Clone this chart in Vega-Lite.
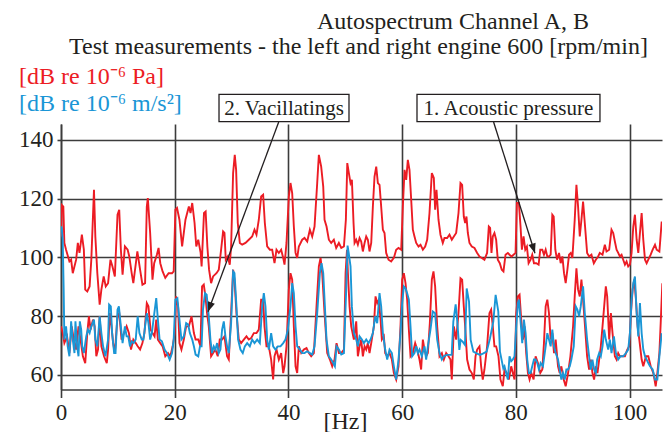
{
"$schema": "https://vega.github.io/schema/vega-lite/v6.json",
"width": 601, "height": 265.5,
"autosize": {"type": "none"},
"padding": {"left": 61, "top": 124, "right": 6, "bottom": 42.5},
"background": "white",
"config": {"font": "Liberation Serif", "view": {"stroke": null}, "text": {"fontWeight": "normal"},
  "axis": {"grid": true, "gridColor": "#3c3c3c", "gridWidth": 1.6, "gridOpacity": 1, "domainColor": "#3c3c3c", "domainWidth": 1.6,
           "tickColor": "#3c3c3c", "tickWidth": 1.6, "labelFont": "Liberation Serif", "labelFontSize": 23, "labelColor": "#231f20", "labelFlush": false,
           "titleFont": "Liberation Serif", "titleFontWeight": "normal", "titleColor": "#231f20"}},
"datasets": {"spectrum": [
{"f":0,"dB":107.1,"s":"A_high"},{"f":0.12,"dB":117.9,"s":"A_high"},{"f":0.41,"dB":117.3,"s":"A_high"},{"f":0.59,"dB":104.9,"s":"A_high"},{"f":0.89,"dB":102.6,"s":"A_high"},{"f":1.48,"dB":98.6,"s":"A_high"},{"f":1.78,"dB":99.2,"s":"A_high"},{"f":2.07,"dB":94.6,"s":"A_high"},{"f":2.66,"dB":99.2,"s":"A_high"},{"f":2.96,"dB":104.9,"s":"A_high"},{"f":3.25,"dB":101.5,"s":"A_high"},{"f":3.67,"dB":107.7,"s":"A_high"},{"f":4.02,"dB":102.6,"s":"A_high"},{"f":4.26,"dB":89.0,"s":"A_high"},{"f":4.62,"dB":88.4,"s":"A_high"},{"f":5.03,"dB":90.1,"s":"A_high"},{"f":5.33,"dB":99.2,"s":"A_high"},{"f":5.80,"dB":123.0,"s":"A_high"},{"f":6.04,"dB":107.1,"s":"A_high"},{"f":6.39,"dB":94.6,"s":"A_high"},{"f":6.80,"dB":83.9,"s":"A_high"},{"f":7.10,"dB":89.0,"s":"A_high"},{"f":7.51,"dB":93.5,"s":"A_high"},{"f":7.87,"dB":90.1,"s":"A_high"},{"f":8.28,"dB":91.2,"s":"A_high"},{"f":8.70,"dB":99.2,"s":"A_high"},{"f":9.05,"dB":96.9,"s":"A_high"},{"f":9.47,"dB":93.5,"s":"A_high"},{"f":9.94,"dB":114.5,"s":"A_high"},{"f":10.24,"dB":116.2,"s":"A_high"},{"f":10.53,"dB":102.6,"s":"A_high"},{"f":10.83,"dB":94.1,"s":"A_high"},{"f":11.24,"dB":103.7,"s":"A_high"},{"f":11.72,"dB":102.6,"s":"A_high"},{"f":12.01,"dB":100.3,"s":"A_high"},{"f":12.43,"dB":94.6,"s":"A_high"},{"f":12.72,"dB":91.2,"s":"A_high"},{"f":13.43,"dB":102.0,"s":"A_high"},{"f":13.91,"dB":95.8,"s":"A_high"},{"f":14.32,"dB":90.7,"s":"A_high"},{"f":14.79,"dB":91.2,"s":"A_high"},{"f":15.09,"dB":117.3,"s":"A_high"},{"f":15.27,"dB":120.2,"s":"A_high"},{"f":15.68,"dB":108.3,"s":"A_high"},{"f":16.09,"dB":92.4,"s":"A_high"},{"f":16.39,"dB":98.0,"s":"A_high"},{"f":16.86,"dB":100.9,"s":"A_high"},{"f":17.16,"dB":103.2,"s":"A_high"},{"f":17.46,"dB":98.0,"s":"A_high"},{"f":17.87,"dB":95.2,"s":"A_high"},{"f":18.34,"dB":93.0,"s":"A_high"},{"f":18.93,"dB":94.6,"s":"A_high"},{"f":19.53,"dB":94.6,"s":"A_high"},{"f":19.82,"dB":95.2,"s":"A_high"},{"f":20.12,"dB":116.2,"s":"A_high"},{"f":20.41,"dB":116.8,"s":"A_high"},{"f":20.83,"dB":112.8,"s":"A_high"},{"f":21.30,"dB":103.7,"s":"A_high"},{"f":21.89,"dB":112.8,"s":"A_high"},{"f":22.49,"dB":117.3,"s":"A_high"},{"f":22.78,"dB":115.1,"s":"A_high"},{"f":23.08,"dB":118.5,"s":"A_high"},{"f":23.49,"dB":111.7,"s":"A_high"},{"f":23.79,"dB":103.7,"s":"A_high"},{"f":24.14,"dB":106.0,"s":"A_high"},{"f":24.56,"dB":101.5,"s":"A_high"},{"f":24.73,"dB":96.9,"s":"A_high"},{"f":25.15,"dB":115.1,"s":"A_high"},{"f":25.44,"dB":115.6,"s":"A_high"},{"f":25.74,"dB":103.7,"s":"A_high"},{"f":26.04,"dB":95.8,"s":"A_high"},{"f":26.40,"dB":91.2,"s":"A_high"},{"f":26.75,"dB":93.5,"s":"A_high"},{"f":27.34,"dB":94.6,"s":"A_high"},{"f":27.75,"dB":95.8,"s":"A_high"},{"f":28.16,"dB":102.6,"s":"A_high"},{"f":28.51,"dB":108.8,"s":"A_high"},{"f":28.75,"dB":108.3,"s":"A_high"},{"f":28.98,"dB":99.2,"s":"A_high"},{"f":29.33,"dB":100.3,"s":"A_high"},{"f":29.68,"dB":97.5,"s":"A_high"},{"f":29.92,"dB":103.7,"s":"A_high"},{"f":30.27,"dB":128.7,"s":"A_high"},{"f":30.56,"dB":134.9,"s":"A_high"},{"f":30.80,"dB":129.8,"s":"A_high"},{"f":31.09,"dB":111.7,"s":"A_high"},{"f":31.45,"dB":104.9,"s":"A_high"},{"f":31.86,"dB":104.3,"s":"A_high"},{"f":32.44,"dB":104.9,"s":"A_high"},{"f":33.03,"dB":106.0,"s":"A_high"},{"f":33.62,"dB":107.1,"s":"A_high"},{"f":34.03,"dB":109.4,"s":"A_high"},{"f":34.38,"dB":107.7,"s":"A_high"},{"f":34.79,"dB":112.8,"s":"A_high"},{"f":35.20,"dB":120.7,"s":"A_high"},{"f":35.55,"dB":121.3,"s":"A_high"},{"f":35.85,"dB":111.7,"s":"A_high"},{"f":36.26,"dB":103.7,"s":"A_high"},{"f":36.73,"dB":102.6,"s":"A_high"},{"f":37.14,"dB":102.6,"s":"A_high"},{"f":37.55,"dB":98.0,"s":"A_high"},{"f":37.90,"dB":102.6,"s":"A_high"},{"f":38.31,"dB":101.5,"s":"A_high"},{"f":38.72,"dB":102.6,"s":"A_high"},{"f":39.08,"dB":99.8,"s":"A_high"},{"f":39.31,"dB":97.5,"s":"A_high"},{"f":39.66,"dB":104.9,"s":"A_high"},{"f":40.07,"dB":120.7,"s":"A_high"},{"f":40.36,"dB":125.3,"s":"A_high"},{"f":40.66,"dB":121.9,"s":"A_high"},{"f":40.95,"dB":110.5,"s":"A_high"},{"f":41.25,"dB":101.5,"s":"A_high"},{"f":41.54,"dB":99.8,"s":"A_high"},{"f":41.83,"dB":103.7,"s":"A_high"},{"f":42.42,"dB":106.0,"s":"A_high"},{"f":42.83,"dB":106.6,"s":"A_high"},{"f":43.30,"dB":105.4,"s":"A_high"},{"f":43.77,"dB":109.4,"s":"A_high"},{"f":44.18,"dB":107.1,"s":"A_high"},{"f":44.59,"dB":110.5,"s":"A_high"},{"f":45.06,"dB":125.3,"s":"A_high"},{"f":45.35,"dB":134.9,"s":"A_high"},{"f":45.76,"dB":130.9,"s":"A_high"},{"f":46.12,"dB":124.1,"s":"A_high"},{"f":46.35,"dB":112.8,"s":"A_high"},{"f":46.70,"dB":110.5,"s":"A_high"},{"f":47.11,"dB":106.0,"s":"A_high"},{"f":47.52,"dB":104.9,"s":"A_high"},{"f":47.99,"dB":106.0,"s":"A_high"},{"f":48.40,"dB":103.2,"s":"A_high"},{"f":48.87,"dB":104.9,"s":"A_high"},{"f":49.29,"dB":103.2,"s":"A_high"},{"f":49.76,"dB":103.7,"s":"A_high"},{"f":50.10,"dB":112.8,"s":"A_high"},{"f":50.35,"dB":132.1,"s":"A_high"},{"f":50.63,"dB":128.7,"s":"A_high"},{"f":50.92,"dB":125.3,"s":"A_high"},{"f":51.16,"dB":126.4,"s":"A_high"},{"f":51.45,"dB":111.7,"s":"A_high"},{"f":51.63,"dB":104.9,"s":"A_high"},{"f":51.92,"dB":106.0,"s":"A_high"},{"f":52.21,"dB":104.3,"s":"A_high"},{"f":52.51,"dB":106.6,"s":"A_high"},{"f":52.80,"dB":105.4,"s":"A_high"},{"f":53.09,"dB":102.0,"s":"A_high"},{"f":53.39,"dB":104.9,"s":"A_high"},{"f":53.68,"dB":107.1,"s":"A_high"},{"f":53.97,"dB":106.0,"s":"A_high"},{"f":54.26,"dB":102.0,"s":"A_high"},{"f":54.56,"dB":104.9,"s":"A_high"},{"f":54.85,"dB":117.3,"s":"A_high"},{"f":55.14,"dB":127.5,"s":"A_high"},{"f":55.44,"dB":130.9,"s":"A_high"},{"f":55.73,"dB":125.3,"s":"A_high"},{"f":56.02,"dB":124.7,"s":"A_high"},{"f":56.31,"dB":117.3,"s":"A_high"},{"f":56.61,"dB":109.4,"s":"A_high"},{"f":56.90,"dB":108.3,"s":"A_high"},{"f":57.19,"dB":101.5,"s":"A_high"},{"f":57.60,"dB":99.2,"s":"A_high"},{"f":58.07,"dB":98.6,"s":"A_high"},{"f":58.54,"dB":99.8,"s":"A_high"},{"f":58.95,"dB":102.6,"s":"A_high"},{"f":59.36,"dB":103.2,"s":"A_high"},{"f":59.83,"dB":102.6,"s":"A_high"},{"f":60.12,"dB":117.3,"s":"A_high"},{"f":60.42,"dB":129.8,"s":"A_high"},{"f":60.71,"dB":126.4,"s":"A_high"},{"f":61.00,"dB":133.2,"s":"A_high"},{"f":61.29,"dB":129.8,"s":"A_high"},{"f":61.59,"dB":119.6,"s":"A_high"},{"f":61.88,"dB":109.4,"s":"A_high"},{"f":62.17,"dB":107.1,"s":"A_high"},{"f":62.47,"dB":104.9,"s":"A_high"},{"f":62.88,"dB":103.7,"s":"A_high"},{"f":63.23,"dB":104.3,"s":"A_high"},{"f":63.64,"dB":102.6,"s":"A_high"},{"f":64.05,"dB":103.7,"s":"A_high"},{"f":64.40,"dB":106.0,"s":"A_high"},{"f":64.81,"dB":115.1,"s":"A_high"},{"f":65.22,"dB":128.7,"s":"A_high"},{"f":65.57,"dB":127.0,"s":"A_high"},{"f":65.80,"dB":116.2,"s":"A_high"},{"f":66.04,"dB":123.0,"s":"A_high"},{"f":66.39,"dB":112.8,"s":"A_high"},{"f":66.74,"dB":107.7,"s":"A_high"},{"f":67.15,"dB":104.9,"s":"A_high"},{"f":67.44,"dB":106.6,"s":"A_high"},{"f":67.91,"dB":106.6,"s":"A_high"},{"f":68.32,"dB":107.7,"s":"A_high"},{"f":68.73,"dB":106.0,"s":"A_high"},{"f":69.09,"dB":107.1,"s":"A_high"},{"f":69.50,"dB":108.3,"s":"A_high"},{"f":69.91,"dB":115.1,"s":"A_high"},{"f":70.26,"dB":125.3,"s":"A_high"},{"f":70.55,"dB":124.7,"s":"A_high"},{"f":70.84,"dB":113.9,"s":"A_high"},{"f":71.08,"dB":111.7,"s":"A_high"},{"f":71.31,"dB":113.9,"s":"A_high"},{"f":71.55,"dB":108.3,"s":"A_high"},{"f":71.84,"dB":104.9,"s":"A_high"},{"f":72.25,"dB":103.7,"s":"A_high"},{"f":72.72,"dB":103.2,"s":"A_high"},{"f":73.19,"dB":101.5,"s":"A_high"},{"f":73.60,"dB":100.3,"s":"A_high"},{"f":74.01,"dB":99.8,"s":"A_high"},{"f":74.47,"dB":99.2,"s":"A_high"},{"f":74.94,"dB":101.5,"s":"A_high"},{"f":75.24,"dB":110.5,"s":"A_high"},{"f":75.47,"dB":110.0,"s":"A_high"},{"f":75.71,"dB":101.5,"s":"A_high"},{"f":75.94,"dB":107.1,"s":"A_high"},{"f":76.23,"dB":108.3,"s":"A_high"},{"f":76.53,"dB":106.0,"s":"A_high"},{"f":76.82,"dB":99.2,"s":"A_high"},{"f":77.17,"dB":98.0,"s":"A_high"},{"f":77.52,"dB":95.8,"s":"A_high"},{"f":77.82,"dB":95.2,"s":"A_high"},{"f":78.18,"dB":100.9,"s":"A_high"},{"f":78.59,"dB":101.5,"s":"A_high"},{"f":78.88,"dB":100.9,"s":"A_high"},{"f":79.24,"dB":100.3,"s":"A_high"},{"f":79.59,"dB":100.9,"s":"A_high"},{"f":79.94,"dB":101.5,"s":"A_high"},{"f":80.18,"dB":118.5,"s":"A_high"},{"f":80.53,"dB":118.5,"s":"A_high"},{"f":80.82,"dB":110.5,"s":"A_high"},{"f":81.06,"dB":102.6,"s":"A_high"},{"f":81.35,"dB":107.1,"s":"A_high"},{"f":81.65,"dB":102.6,"s":"A_high"},{"f":81.94,"dB":103.7,"s":"A_high"},{"f":82.24,"dB":98.0,"s":"A_high"},{"f":82.59,"dB":99.2,"s":"A_high"},{"f":82.88,"dB":100.9,"s":"A_high"},{"f":83.18,"dB":98.0,"s":"A_high"},{"f":83.59,"dB":98.0,"s":"A_high"},{"f":84.00,"dB":97.5,"s":"A_high"},{"f":84.29,"dB":102.6,"s":"A_high"},{"f":84.65,"dB":102.6,"s":"A_high"},{"f":84.94,"dB":100.9,"s":"A_high"},{"f":85.24,"dB":102.6,"s":"A_high"},{"f":85.53,"dB":100.3,"s":"A_high"},{"f":85.82,"dB":100.3,"s":"A_high"},{"f":86.12,"dB":100.9,"s":"A_high"},{"f":86.41,"dB":114.5,"s":"A_high"},{"f":86.65,"dB":113.9,"s":"A_high"},{"f":86.94,"dB":102.6,"s":"A_high"},{"f":87.24,"dB":99.2,"s":"A_high"},{"f":87.59,"dB":101.5,"s":"A_high"},{"f":87.88,"dB":98.0,"s":"A_high"},{"f":88.18,"dB":100.3,"s":"A_high"},{"f":88.47,"dB":94.6,"s":"A_high"},{"f":88.76,"dB":91.2,"s":"A_high"},{"f":89.06,"dB":95.8,"s":"A_high"},{"f":89.35,"dB":100.9,"s":"A_high"},{"f":89.65,"dB":101.5,"s":"A_high"},{"f":89.94,"dB":99.8,"s":"A_high"},{"f":90.35,"dB":112.8,"s":"A_high"},{"f":90.65,"dB":124.7,"s":"A_high"},{"f":90.94,"dB":117.3,"s":"A_high"},{"f":91.24,"dB":107.1,"s":"A_high"},{"f":91.53,"dB":112.8,"s":"A_high"},{"f":91.82,"dB":119.0,"s":"A_high"},{"f":92.12,"dB":111.7,"s":"A_high"},{"f":92.53,"dB":101.5,"s":"A_high"},{"f":92.88,"dB":100.3,"s":"A_high"},{"f":93.29,"dB":100.9,"s":"A_high"},{"f":93.71,"dB":98.0,"s":"A_high"},{"f":94.06,"dB":99.2,"s":"A_high"},{"f":94.47,"dB":100.3,"s":"A_high"},{"f":94.76,"dB":101.5,"s":"A_high"},{"f":95.24,"dB":100.9,"s":"A_high"},{"f":95.65,"dB":104.3,"s":"A_high"},{"f":95.94,"dB":102.0,"s":"A_high"},{"f":96.41,"dB":102.6,"s":"A_high"},{"f":96.82,"dB":109.4,"s":"A_high"},{"f":97.12,"dB":108.3,"s":"A_high"},{"f":97.41,"dB":105.4,"s":"A_high"},{"f":97.71,"dB":102.6,"s":"A_high"},{"f":98.00,"dB":101.5,"s":"A_high"},{"f":98.29,"dB":100.3,"s":"A_high"},{"f":98.59,"dB":100.9,"s":"A_high"},{"f":98.88,"dB":99.2,"s":"A_high"},{"f":99.18,"dB":97.5,"s":"A_high"},{"f":99.47,"dB":98.6,"s":"A_high"},{"f":99.76,"dB":96.9,"s":"A_high"},{"f":100.06,"dB":97.5,"s":"A_high"},{"f":100.35,"dB":101.5,"s":"A_high"},{"f":100.65,"dB":110.5,"s":"A_high"},{"f":100.94,"dB":114.5,"s":"A_high"},{"f":101.24,"dB":106.0,"s":"A_high"},{"f":101.53,"dB":101.5,"s":"A_high"},{"f":101.82,"dB":108.3,"s":"A_high"},{"f":102.12,"dB":115.1,"s":"A_high"},{"f":102.41,"dB":106.0,"s":"A_high"},{"f":102.71,"dB":99.2,"s":"A_high"},{"f":103.00,"dB":98.0,"s":"A_high"},{"f":103.29,"dB":99.2,"s":"A_high"},{"f":103.71,"dB":100.9,"s":"A_high"},{"f":104.06,"dB":102.6,"s":"A_high"},{"f":104.47,"dB":104.3,"s":"A_high"},{"f":104.76,"dB":102.6,"s":"A_high"},{"f":105.24,"dB":102.0,"s":"A_high"},{"f":105.65,"dB":112.2,"s":"A_high"},
{"f":0,"dB":76.5,"s":"A_low"},{"f":0.30,"dB":74.2,"s":"A_low"},{"f":0.59,"dB":70.8,"s":"A_low"},{"f":1.07,"dB":73.1,"s":"A_low"},{"f":1.48,"dB":67.4,"s":"A_low"},{"f":1.89,"dB":76.5,"s":"A_low"},{"f":2.25,"dB":72.0,"s":"A_low"},{"f":2.66,"dB":68.6,"s":"A_low"},{"f":3.08,"dB":76.5,"s":"A_low"},{"f":3.43,"dB":72.0,"s":"A_low"},{"f":3.85,"dB":66.3,"s":"A_low"},{"f":4.26,"dB":64.0,"s":"A_low"},{"f":4.62,"dB":74.2,"s":"A_low"},{"f":4.91,"dB":79.9,"s":"A_low"},{"f":5.21,"dB":75.4,"s":"A_low"},{"f":5.62,"dB":78.8,"s":"A_low"},{"f":5.92,"dB":76.5,"s":"A_low"},{"f":6.21,"dB":66.3,"s":"A_low"},{"f":6.51,"dB":68.6,"s":"A_low"},{"f":6.80,"dB":79.9,"s":"A_low"},{"f":7.10,"dB":69.7,"s":"A_low"},{"f":7.57,"dB":66.3,"s":"A_low"},{"f":8.05,"dB":64.0,"s":"A_low"},{"f":8.28,"dB":68.6,"s":"A_low"},{"f":8.58,"dB":81.0,"s":"A_low"},{"f":8.88,"dB":76.5,"s":"A_low"},{"f":9.17,"dB":70.8,"s":"A_low"},{"f":9.47,"dB":67.4,"s":"A_low"},{"f":9.94,"dB":79.9,"s":"A_low"},{"f":10.24,"dB":81.0,"s":"A_low"},{"f":10.65,"dB":72.0,"s":"A_low"},{"f":11.07,"dB":74.2,"s":"A_low"},{"f":11.54,"dB":76.5,"s":"A_low"},{"f":11.95,"dB":74.2,"s":"A_low"},{"f":12.31,"dB":68.6,"s":"A_low"},{"f":12.72,"dB":72.0,"s":"A_low"},{"f":13.14,"dB":70.8,"s":"A_low"},{"f":13.49,"dB":69.7,"s":"A_low"},{"f":13.91,"dB":68.6,"s":"A_low"},{"f":14.32,"dB":70.8,"s":"A_low"},{"f":14.67,"dB":74.2,"s":"A_low"},{"f":15.09,"dB":84.4,"s":"A_low"},{"f":15.38,"dB":83.3,"s":"A_low"},{"f":15.74,"dB":75.4,"s":"A_low"},{"f":16.09,"dB":74.2,"s":"A_low"},{"f":16.45,"dB":73.1,"s":"A_low"},{"f":16.75,"dB":78.8,"s":"A_low"},{"f":17.04,"dB":72.0,"s":"A_low"},{"f":17.46,"dB":70.8,"s":"A_low"},{"f":17.87,"dB":69.7,"s":"A_low"},{"f":18.34,"dB":66.3,"s":"A_low"},{"f":18.82,"dB":67.4,"s":"A_low"},{"f":19.23,"dB":66.3,"s":"A_low"},{"f":19.64,"dB":69.7,"s":"A_low"},{"f":20.00,"dB":74.2,"s":"A_low"},{"f":20.24,"dB":86.7,"s":"A_low"},{"f":20.59,"dB":83.3,"s":"A_low"},{"f":20.83,"dB":70.8,"s":"A_low"},{"f":21.18,"dB":68.6,"s":"A_low"},{"f":21.60,"dB":72.0,"s":"A_low"},{"f":22.01,"dB":76.5,"s":"A_low"},{"f":22.49,"dB":76.5,"s":"A_low"},{"f":22.96,"dB":79.9,"s":"A_low"},{"f":23.37,"dB":74.2,"s":"A_low"},{"f":23.67,"dB":72.0,"s":"A_low"},{"f":24.14,"dB":72.0,"s":"A_low"},{"f":24.52,"dB":69.7,"s":"A_low"},{"f":24.81,"dB":90.1,"s":"A_low"},{"f":25.11,"dB":90.7,"s":"A_low"},{"f":25.40,"dB":86.7,"s":"A_low"},{"f":25.69,"dB":81.0,"s":"A_low"},{"f":25.99,"dB":76.5,"s":"A_low"},{"f":26.40,"dB":66.3,"s":"A_low"},{"f":26.75,"dB":67.4,"s":"A_low"},{"f":27.16,"dB":68.6,"s":"A_low"},{"f":27.57,"dB":66.3,"s":"A_low"},{"f":27.92,"dB":72.0,"s":"A_low"},{"f":28.33,"dB":72.0,"s":"A_low"},{"f":28.75,"dB":73.1,"s":"A_low"},{"f":29.21,"dB":66.3,"s":"A_low"},{"f":29.51,"dB":65.2,"s":"A_low"},{"f":29.92,"dB":81.0,"s":"A_low"},{"f":30.27,"dB":95.8,"s":"A_low"},{"f":30.51,"dB":92.4,"s":"A_low"},{"f":30.86,"dB":81.0,"s":"A_low"},{"f":31.27,"dB":72.0,"s":"A_low"},{"f":31.68,"dB":70.8,"s":"A_low"},{"f":32.15,"dB":72.0,"s":"A_low"},{"f":32.62,"dB":73.1,"s":"A_low"},{"f":33.03,"dB":72.0,"s":"A_low"},{"f":33.44,"dB":72.5,"s":"A_low"},{"f":33.91,"dB":74.2,"s":"A_low"},{"f":34.38,"dB":74.2,"s":"A_low"},{"f":34.79,"dB":75.4,"s":"A_low"},{"f":35.20,"dB":85.6,"s":"A_low"},{"f":35.55,"dB":85.6,"s":"A_low"},{"f":35.79,"dB":76.5,"s":"A_low"},{"f":36.14,"dB":69.7,"s":"A_low"},{"f":36.55,"dB":69.7,"s":"A_low"},{"f":36.96,"dB":65.2,"s":"A_low"},{"f":37.31,"dB":58.4,"s":"A_low"},{"f":37.55,"dB":66.3,"s":"A_low"},{"f":37.90,"dB":68.6,"s":"A_low"},{"f":38.31,"dB":65.2,"s":"A_low"},{"f":38.72,"dB":67.4,"s":"A_low"},{"f":39.08,"dB":60.6,"s":"A_low"},{"f":39.31,"dB":62.9,"s":"A_low"},{"f":39.66,"dB":69.7,"s":"A_low"},{"f":40.07,"dB":89.0,"s":"A_low"},{"f":40.36,"dB":94.6,"s":"A_low"},{"f":40.66,"dB":92.4,"s":"A_low"},{"f":40.95,"dB":76.5,"s":"A_low"},{"f":41.25,"dB":62.9,"s":"A_low"},{"f":41.54,"dB":60.6,"s":"A_low"},{"f":41.83,"dB":69.7,"s":"A_low"},{"f":42.25,"dB":67.4,"s":"A_low"},{"f":42.71,"dB":68.6,"s":"A_low"},{"f":43.18,"dB":69.1,"s":"A_low"},{"f":43.59,"dB":67.4,"s":"A_low"},{"f":44.00,"dB":66.3,"s":"A_low"},{"f":44.47,"dB":67.4,"s":"A_low"},{"f":44.94,"dB":83.3,"s":"A_low"},{"f":45.35,"dB":96.9,"s":"A_low"},{"f":45.65,"dB":99.8,"s":"A_low"},{"f":45.94,"dB":94.6,"s":"A_low"},{"f":46.35,"dB":81.0,"s":"A_low"},{"f":46.82,"dB":67.4,"s":"A_low"},{"f":47.29,"dB":65.2,"s":"A_low"},{"f":47.70,"dB":62.9,"s":"A_low"},{"f":48.11,"dB":65.2,"s":"A_low"},{"f":48.46,"dB":70.8,"s":"A_low"},{"f":48.88,"dB":67.4,"s":"A_low"},{"f":49.29,"dB":67.4,"s":"A_low"},{"f":49.76,"dB":68.6,"s":"A_low"},{"f":50.05,"dB":94.6,"s":"A_low"},{"f":50.30,"dB":102.6,"s":"A_low"},{"f":50.46,"dB":94.6,"s":"A_low"},{"f":50.75,"dB":83.3,"s":"A_low"},{"f":51.04,"dB":76.5,"s":"A_low"},{"f":51.51,"dB":72.0,"s":"A_low"},{"f":51.92,"dB":78.2,"s":"A_low"},{"f":52.21,"dB":66.3,"s":"A_low"},{"f":52.51,"dB":69.7,"s":"A_low"},{"f":52.80,"dB":72.0,"s":"A_low"},{"f":53.09,"dB":66.3,"s":"A_low"},{"f":53.39,"dB":69.7,"s":"A_low"},{"f":53.68,"dB":68.6,"s":"A_low"},{"f":53.97,"dB":70.8,"s":"A_low"},{"f":54.26,"dB":67.4,"s":"A_low"},{"f":54.56,"dB":70.8,"s":"A_low"},{"f":55.03,"dB":76.5,"s":"A_low"},{"f":55.32,"dB":86.7,"s":"A_low"},{"f":55.61,"dB":84.4,"s":"A_low"},{"f":55.90,"dB":85.6,"s":"A_low"},{"f":56.20,"dB":78.8,"s":"A_low"},{"f":56.43,"dB":72.0,"s":"A_low"},{"f":56.78,"dB":73.1,"s":"A_low"},{"f":57.02,"dB":67.4,"s":"A_low"},{"f":57.37,"dB":66.3,"s":"A_low"},{"f":57.78,"dB":67.4,"s":"A_low"},{"f":58.19,"dB":65.2,"s":"A_low"},{"f":58.54,"dB":60.6,"s":"A_low"},{"f":58.95,"dB":58.4,"s":"A_low"},{"f":59.36,"dB":62.9,"s":"A_low"},{"f":59.71,"dB":76.5,"s":"A_low"},{"f":60.00,"dB":92.4,"s":"A_low"},{"f":60.30,"dB":94.6,"s":"A_low"},{"f":60.59,"dB":91.2,"s":"A_low"},{"f":60.88,"dB":85.6,"s":"A_low"},{"f":61.18,"dB":75.4,"s":"A_low"},{"f":61.47,"dB":66.3,"s":"A_low"},{"f":61.88,"dB":67.4,"s":"A_low"},{"f":62.29,"dB":70.8,"s":"A_low"},{"f":62.64,"dB":68.6,"s":"A_low"},{"f":63.05,"dB":65.2,"s":"A_low"},{"f":63.34,"dB":61.8,"s":"A_low"},{"f":63.64,"dB":72.0,"s":"A_low"},{"f":63.93,"dB":68.6,"s":"A_low"},{"f":64.22,"dB":66.3,"s":"A_low"},{"f":64.52,"dB":67.4,"s":"A_low"},{"f":64.87,"dB":77.6,"s":"A_low"},{"f":65.22,"dB":92.4,"s":"A_low"},{"f":65.51,"dB":95.2,"s":"A_low"},{"f":65.80,"dB":90.1,"s":"A_low"},{"f":66.16,"dB":76.5,"s":"A_low"},{"f":66.57,"dB":66.3,"s":"A_low"},{"f":66.98,"dB":67.4,"s":"A_low"},{"f":67.33,"dB":65.2,"s":"A_low"},{"f":67.74,"dB":67.4,"s":"A_low"},{"f":68.15,"dB":66.3,"s":"A_low"},{"f":68.50,"dB":65.2,"s":"A_low"},{"f":68.73,"dB":58.4,"s":"A_low"},{"f":69.09,"dB":76.5,"s":"A_low"},{"f":69.50,"dB":72.0,"s":"A_low"},{"f":69.91,"dB":81.0,"s":"A_low"},{"f":70.26,"dB":92.9,"s":"A_low"},{"f":70.55,"dB":92.4,"s":"A_low"},{"f":70.84,"dB":83.3,"s":"A_low"},{"f":71.08,"dB":76.5,"s":"A_low"},{"f":71.43,"dB":65.2,"s":"A_low"},{"f":71.84,"dB":61.8,"s":"A_low"},{"f":72.25,"dB":60.6,"s":"A_low"},{"f":72.60,"dB":58.4,"s":"A_low"},{"f":72.90,"dB":66.3,"s":"A_low"},{"f":73.19,"dB":68.6,"s":"A_low"},{"f":73.60,"dB":69.7,"s":"A_low"},{"f":73.89,"dB":62.9,"s":"A_low"},{"f":74.18,"dB":58.4,"s":"A_low"},{"f":74.47,"dB":61.8,"s":"A_low"},{"f":74.94,"dB":69.7,"s":"A_low"},{"f":75.35,"dB":81.0,"s":"A_low"},{"f":75.65,"dB":82.2,"s":"A_low"},{"f":75.94,"dB":76.5,"s":"A_low"},{"f":76.23,"dB":69.7,"s":"A_low"},{"f":76.53,"dB":69.7,"s":"A_low"},{"f":76.94,"dB":66.3,"s":"A_low"},{"f":77.29,"dB":58.4,"s":"A_low"},{"f":77.70,"dB":56.1,"s":"A_low"},{"f":78.00,"dB":61.8,"s":"A_low"},{"f":78.41,"dB":60.6,"s":"A_low"},{"f":78.76,"dB":58.4,"s":"A_low"},{"f":79.18,"dB":62.9,"s":"A_low"},{"f":79.47,"dB":60.6,"s":"A_low"},{"f":79.76,"dB":58.4,"s":"A_low"},{"f":80.06,"dB":81.0,"s":"A_low"},{"f":80.35,"dB":86.7,"s":"A_low"},{"f":80.65,"dB":87.3,"s":"A_low"},{"f":80.94,"dB":78.8,"s":"A_low"},{"f":81.24,"dB":72.0,"s":"A_low"},{"f":81.53,"dB":76.5,"s":"A_low"},{"f":81.82,"dB":67.4,"s":"A_low"},{"f":82.12,"dB":60.6,"s":"A_low"},{"f":82.41,"dB":58.4,"s":"A_low"},{"f":82.71,"dB":60.6,"s":"A_low"},{"f":83.12,"dB":58.4,"s":"A_low"},{"f":83.47,"dB":66.3,"s":"A_low"},{"f":83.88,"dB":64.0,"s":"A_low"},{"f":84.29,"dB":60.6,"s":"A_low"},{"f":84.65,"dB":61.8,"s":"A_low"},{"f":84.94,"dB":70.8,"s":"A_low"},{"f":85.24,"dB":83.3,"s":"A_low"},{"f":85.53,"dB":85.6,"s":"A_low"},{"f":85.82,"dB":81.0,"s":"A_low"},{"f":86.12,"dB":72.0,"s":"A_low"},{"f":86.41,"dB":74.2,"s":"A_low"},{"f":86.71,"dB":67.4,"s":"A_low"},{"f":87.00,"dB":72.0,"s":"A_low"},{"f":87.41,"dB":62.9,"s":"A_low"},{"f":87.71,"dB":60.6,"s":"A_low"},{"f":88.00,"dB":62.9,"s":"A_low"},{"f":88.41,"dB":58.4,"s":"A_low"},{"f":88.76,"dB":56.1,"s":"A_low"},{"f":89.18,"dB":60.6,"s":"A_low"},{"f":89.59,"dB":66.3,"s":"A_low"},{"f":90.06,"dB":76.5,"s":"A_low"},{"f":90.35,"dB":86.7,"s":"A_low"},{"f":90.65,"dB":96.3,"s":"A_low"},{"f":90.94,"dB":89.0,"s":"A_low"},{"f":91.24,"dB":86.7,"s":"A_low"},{"f":91.53,"dB":92.4,"s":"A_low"},{"f":91.82,"dB":85.6,"s":"A_low"},{"f":92.12,"dB":77.6,"s":"A_low"},{"f":92.53,"dB":66.3,"s":"A_low"},{"f":92.88,"dB":61.8,"s":"A_low"},{"f":93.18,"dB":65.2,"s":"A_low"},{"f":93.47,"dB":60.6,"s":"A_low"},{"f":93.76,"dB":58.4,"s":"A_low"},{"f":94.06,"dB":62.9,"s":"A_low"},{"f":94.35,"dB":60.6,"s":"A_low"},{"f":94.65,"dB":65.2,"s":"A_low"},{"f":94.94,"dB":69.7,"s":"A_low"},{"f":95.24,"dB":76.5,"s":"A_low"},{"f":95.53,"dB":83.3,"s":"A_low"},{"f":95.82,"dB":90.1,"s":"A_low"},{"f":96.06,"dB":86.7,"s":"A_low"},{"f":96.41,"dB":72.0,"s":"A_low"},{"f":96.71,"dB":81.0,"s":"A_low"},{"f":97.00,"dB":74.2,"s":"A_low"},{"f":97.41,"dB":66.3,"s":"A_low"},{"f":97.71,"dB":65.2,"s":"A_low"},{"f":98.00,"dB":67.4,"s":"A_low"},{"f":98.29,"dB":66.3,"s":"A_low"},{"f":98.76,"dB":66.3,"s":"A_low"},{"f":99.18,"dB":66.3,"s":"A_low"},{"f":99.59,"dB":68.6,"s":"A_low"},{"f":99.94,"dB":69.7,"s":"A_low"},{"f":100.24,"dB":81.0,"s":"A_low"},{"f":100.53,"dB":89.0,"s":"A_low"},{"f":100.82,"dB":92.4,"s":"A_low"},{"f":101.12,"dB":85.6,"s":"A_low"},{"f":101.41,"dB":76.5,"s":"A_low"},{"f":101.71,"dB":72.0,"s":"A_low"},{"f":102.12,"dB":65.2,"s":"A_low"},{"f":102.41,"dB":62.9,"s":"A_low"},{"f":102.88,"dB":66.3,"s":"A_low"},{"f":103.29,"dB":66.3,"s":"A_low"},{"f":103.71,"dB":62.9,"s":"A_low"},{"f":104.18,"dB":60.6,"s":"A_low"},{"f":104.59,"dB":56.1,"s":"A_low"},{"f":104.88,"dB":60.6,"s":"A_low"},{"f":105.24,"dB":67.4,"s":"A_low"},{"f":105.47,"dB":77.6,"s":"A_low"},{"f":105.76,"dB":91.2,"s":"A_low"},
{"f":0,"dB":110.5,"s":"B"},{"f":0.12,"dB":110.0,"s":"B"},{"f":0.30,"dB":106.0,"s":"B"},{"f":0.47,"dB":89.0,"s":"B"},{"f":0.59,"dB":72.0,"s":"B"},{"f":0.89,"dB":76.5,"s":"B"},{"f":1.18,"dB":69.7,"s":"B"},{"f":1.48,"dB":66.3,"s":"B"},{"f":1.78,"dB":78.2,"s":"B"},{"f":2.07,"dB":72.0,"s":"B"},{"f":2.37,"dB":67.4,"s":"B"},{"f":2.54,"dB":78.2,"s":"B"},{"f":2.84,"dB":69.7,"s":"B"},{"f":3.08,"dB":66.3,"s":"B"},{"f":3.31,"dB":78.2,"s":"B"},{"f":3.55,"dB":75.4,"s":"B"},{"f":3.73,"dB":69.7,"s":"B"},{"f":4.02,"dB":67.4,"s":"B"},{"f":4.44,"dB":73.1,"s":"B"},{"f":4.73,"dB":75.4,"s":"B"},{"f":5.03,"dB":74.2,"s":"B"},{"f":5.33,"dB":76.5,"s":"B"},{"f":5.80,"dB":78.8,"s":"B"},{"f":6.04,"dB":72.0,"s":"B"},{"f":6.39,"dB":69.7,"s":"B"},{"f":6.80,"dB":79.9,"s":"B"},{"f":7.10,"dB":74.2,"s":"B"},{"f":7.40,"dB":69.7,"s":"B"},{"f":7.81,"dB":66.3,"s":"B"},{"f":8.28,"dB":72.0,"s":"B"},{"f":8.46,"dB":83.9,"s":"B"},{"f":8.76,"dB":83.3,"s":"B"},{"f":8.99,"dB":74.2,"s":"B"},{"f":9.35,"dB":67.4,"s":"B"},{"f":9.59,"dB":67.4,"s":"B"},{"f":9.94,"dB":82.2,"s":"B"},{"f":10.18,"dB":83.3,"s":"B"},{"f":10.53,"dB":76.5,"s":"B"},{"f":10.83,"dB":70.8,"s":"B"},{"f":11.24,"dB":76.5,"s":"B"},{"f":11.54,"dB":73.1,"s":"B"},{"f":11.83,"dB":73.1,"s":"B"},{"f":12.13,"dB":69.7,"s":"B"},{"f":12.43,"dB":71.4,"s":"B"},{"f":12.78,"dB":70.8,"s":"B"},{"f":13.14,"dB":72.0,"s":"B"},{"f":13.49,"dB":79.9,"s":"B"},{"f":13.79,"dB":74.2,"s":"B"},{"f":14.20,"dB":72.0,"s":"B"},{"f":14.50,"dB":72.0,"s":"B"},{"f":14.79,"dB":76.5,"s":"B"},{"f":15.09,"dB":81.0,"s":"B"},{"f":15.38,"dB":77.6,"s":"B"},{"f":15.68,"dB":72.0,"s":"B"},{"f":15.98,"dB":74.2,"s":"B"},{"f":16.27,"dB":78.8,"s":"B"},{"f":16.75,"dB":86.1,"s":"B"},{"f":17.04,"dB":78.8,"s":"B"},{"f":17.34,"dB":72.0,"s":"B"},{"f":17.75,"dB":71.4,"s":"B"},{"f":18.22,"dB":68.6,"s":"B"},{"f":18.64,"dB":67.4,"s":"B"},{"f":19.11,"dB":65.2,"s":"B"},{"f":19.53,"dB":67.4,"s":"B"},{"f":19.82,"dB":72.0,"s":"B"},{"f":20.12,"dB":85.6,"s":"B"},{"f":20.47,"dB":86.1,"s":"B"},{"f":20.83,"dB":78.8,"s":"B"},{"f":21.18,"dB":72.0,"s":"B"},{"f":21.60,"dB":73.1,"s":"B"},{"f":22.01,"dB":77.6,"s":"B"},{"f":22.37,"dB":77.1,"s":"B"},{"f":22.66,"dB":74.2,"s":"B"},{"f":23.08,"dB":72.0,"s":"B"},{"f":23.37,"dB":69.7,"s":"B"},{"f":23.67,"dB":66.9,"s":"B"},{"f":24.14,"dB":66.3,"s":"B"},{"f":24.44,"dB":69.7,"s":"B"},{"f":24.73,"dB":69.7,"s":"B"},{"f":24.97,"dB":82.2,"s":"B"},{"f":25.33,"dB":87.8,"s":"B"},{"f":25.62,"dB":87.3,"s":"B"},{"f":25.99,"dB":79.9,"s":"B"},{"f":26.28,"dB":72.0,"s":"B"},{"f":26.57,"dB":67.4,"s":"B"},{"f":26.87,"dB":69.7,"s":"B"},{"f":27.16,"dB":68.6,"s":"B"},{"f":27.45,"dB":70.8,"s":"B"},{"f":27.75,"dB":67.4,"s":"B"},{"f":28.04,"dB":68.6,"s":"B"},{"f":28.33,"dB":75.4,"s":"B"},{"f":28.63,"dB":78.2,"s":"B"},{"f":28.92,"dB":73.1,"s":"B"},{"f":29.21,"dB":69.7,"s":"B"},{"f":29.51,"dB":67.4,"s":"B"},{"f":29.92,"dB":77.6,"s":"B"},{"f":30.27,"dB":95.2,"s":"B"},{"f":30.51,"dB":94.6,"s":"B"},{"f":30.86,"dB":83.3,"s":"B"},{"f":31.15,"dB":72.0,"s":"B"},{"f":31.56,"dB":68.6,"s":"B"},{"f":31.97,"dB":67.4,"s":"B"},{"f":32.33,"dB":69.7,"s":"B"},{"f":32.74,"dB":70.8,"s":"B"},{"f":33.21,"dB":69.7,"s":"B"},{"f":33.62,"dB":72.0,"s":"B"},{"f":34.03,"dB":70.8,"s":"B"},{"f":34.50,"dB":72.0,"s":"B"},{"f":34.97,"dB":70.8,"s":"B"},{"f":35.38,"dB":83.3,"s":"B"},{"f":35.67,"dB":87.8,"s":"B"},{"f":35.96,"dB":83.3,"s":"B"},{"f":36.26,"dB":72.0,"s":"B"},{"f":36.55,"dB":68.6,"s":"B"},{"f":36.96,"dB":74.2,"s":"B"},{"f":37.31,"dB":69.7,"s":"B"},{"f":37.72,"dB":68.6,"s":"B"},{"f":38.13,"dB":69.7,"s":"B"},{"f":38.60,"dB":69.7,"s":"B"},{"f":39.08,"dB":70.8,"s":"B"},{"f":39.48,"dB":72.0,"s":"B"},{"f":39.90,"dB":75.4,"s":"B"},{"f":40.36,"dB":83.3,"s":"B"},{"f":40.66,"dB":91.2,"s":"B"},{"f":40.95,"dB":87.8,"s":"B"},{"f":41.25,"dB":76.5,"s":"B"},{"f":41.54,"dB":69.7,"s":"B"},{"f":42.01,"dB":68.6,"s":"B"},{"f":42.42,"dB":67.4,"s":"B"},{"f":42.83,"dB":67.4,"s":"B"},{"f":43.30,"dB":68.0,"s":"B"},{"f":43.77,"dB":67.4,"s":"B"},{"f":44.18,"dB":66.9,"s":"B"},{"f":44.59,"dB":69.7,"s":"B"},{"f":45.06,"dB":81.0,"s":"B"},{"f":45.53,"dB":94.6,"s":"B"},{"f":45.82,"dB":98.0,"s":"B"},{"f":46.12,"dB":94.6,"s":"B"},{"f":46.41,"dB":83.3,"s":"B"},{"f":46.70,"dB":72.0,"s":"B"},{"f":47.11,"dB":66.3,"s":"B"},{"f":47.52,"dB":65.2,"s":"B"},{"f":47.88,"dB":64.0,"s":"B"},{"f":48.17,"dB":62.9,"s":"B"},{"f":48.46,"dB":69.7,"s":"B"},{"f":48.88,"dB":68.6,"s":"B"},{"f":49.29,"dB":66.9,"s":"B"},{"f":49.76,"dB":67.4,"s":"B"},{"f":50.16,"dB":89.0,"s":"B"},{"f":50.40,"dB":104.0,"s":"B"},{"f":50.60,"dB":101.5,"s":"B"},{"f":50.92,"dB":96.9,"s":"B"},{"f":51.16,"dB":83.3,"s":"B"},{"f":51.51,"dB":74.2,"s":"B"},{"f":51.92,"dB":72.0,"s":"B"},{"f":52.21,"dB":69.7,"s":"B"},{"f":52.51,"dB":73.1,"s":"B"},{"f":52.92,"dB":72.0,"s":"B"},{"f":53.27,"dB":70.8,"s":"B"},{"f":53.68,"dB":72.0,"s":"B"},{"f":54.09,"dB":70.8,"s":"B"},{"f":54.44,"dB":72.0,"s":"B"},{"f":54.85,"dB":74.2,"s":"B"},{"f":55.26,"dB":79.9,"s":"B"},{"f":55.61,"dB":77.6,"s":"B"},{"f":56.02,"dB":87.8,"s":"B"},{"f":56.31,"dB":83.3,"s":"B"},{"f":56.61,"dB":74.2,"s":"B"},{"f":57.02,"dB":68.6,"s":"B"},{"f":57.37,"dB":65.2,"s":"B"},{"f":57.78,"dB":68.6,"s":"B"},{"f":58.19,"dB":67.4,"s":"B"},{"f":58.54,"dB":62.9,"s":"B"},{"f":58.95,"dB":58.4,"s":"B"},{"f":59.36,"dB":65.2,"s":"B"},{"f":59.71,"dB":74.2,"s":"B"},{"f":60.00,"dB":84.4,"s":"B"},{"f":60.30,"dB":90.1,"s":"B"},{"f":60.59,"dB":89.5,"s":"B"},{"f":60.88,"dB":87.8,"s":"B"},{"f":61.18,"dB":85.6,"s":"B"},{"f":61.47,"dB":76.5,"s":"B"},{"f":61.76,"dB":66.3,"s":"B"},{"f":62.17,"dB":67.4,"s":"B"},{"f":62.47,"dB":69.7,"s":"B"},{"f":62.76,"dB":67.4,"s":"B"},{"f":63.05,"dB":68.6,"s":"B"},{"f":63.46,"dB":66.3,"s":"B"},{"f":63.93,"dB":69.7,"s":"B"},{"f":64.22,"dB":65.2,"s":"B"},{"f":64.52,"dB":69.7,"s":"B"},{"f":64.98,"dB":75.4,"s":"B"},{"f":65.39,"dB":81.6,"s":"B"},{"f":65.80,"dB":81.0,"s":"B"},{"f":66.16,"dB":72.0,"s":"B"},{"f":66.57,"dB":67.4,"s":"B"},{"f":66.98,"dB":65.2,"s":"B"},{"f":67.33,"dB":66.3,"s":"B"},{"f":67.83,"dB":66.8,"s":"B"},{"f":68.71,"dB":66.8,"s":"B"},{"f":69.00,"dB":78.1,"s":"B"},{"f":69.41,"dB":84.0,"s":"B"},{"f":69.70,"dB":78.1,"s":"B"},{"f":70.06,"dB":68.5,"s":"B"},{"f":70.29,"dB":71.9,"s":"B"},{"f":70.64,"dB":71.3,"s":"B"},{"f":71.05,"dB":70.2,"s":"B"},{"f":71.35,"dB":89.4,"s":"B"},{"f":71.76,"dB":84.9,"s":"B"},{"f":72.05,"dB":71.9,"s":"B"},{"f":72.52,"dB":67.9,"s":"B"},{"f":73.10,"dB":67.3,"s":"B"},{"f":73.69,"dB":66.8,"s":"B"},{"f":74.28,"dB":67.3,"s":"B"},{"f":74.86,"dB":67.9,"s":"B"},{"f":75.45,"dB":72.4,"s":"B"},{"f":76.03,"dB":78.1,"s":"B"},{"f":76.44,"dB":87.2,"s":"B"},{"f":76.91,"dB":81.5,"s":"B"},{"f":77.20,"dB":67.9,"s":"B"},{"f":77.79,"dB":62.2,"s":"B"},{"f":78.00,"dB":62.9,"s":"B"},{"f":78.29,"dB":60.6,"s":"B"},{"f":78.59,"dB":58.4,"s":"B"},{"f":78.88,"dB":66.3,"s":"B"},{"f":79.18,"dB":64.6,"s":"B"},{"f":79.47,"dB":65.2,"s":"B"},{"f":79.76,"dB":66.3,"s":"B"},{"f":80.06,"dB":76.5,"s":"B"},{"f":80.35,"dB":84.4,"s":"B"},{"f":80.53,"dB":85.6,"s":"B"},{"f":80.76,"dB":79.9,"s":"B"},{"f":81.12,"dB":70.8,"s":"B"},{"f":81.41,"dB":78.8,"s":"B"},{"f":81.71,"dB":74.2,"s":"B"},{"f":82.00,"dB":65.2,"s":"B"},{"f":82.29,"dB":60.6,"s":"B"},{"f":82.59,"dB":60.6,"s":"B"},{"f":82.88,"dB":62.9,"s":"B"},{"f":83.18,"dB":65.2,"s":"B"},{"f":83.47,"dB":65.2,"s":"B"},{"f":83.76,"dB":64.0,"s":"B"},{"f":84.06,"dB":61.8,"s":"B"},{"f":84.35,"dB":64.0,"s":"B"},{"f":84.76,"dB":62.9,"s":"B"},{"f":85.24,"dB":69.7,"s":"B"},{"f":85.53,"dB":74.2,"s":"B"},{"f":85.82,"dB":72.0,"s":"B"},{"f":86.12,"dB":69.7,"s":"B"},{"f":86.41,"dB":75.4,"s":"B"},{"f":86.71,"dB":69.7,"s":"B"},{"f":87.00,"dB":67.4,"s":"B"},{"f":87.41,"dB":65.2,"s":"B"},{"f":87.71,"dB":61.8,"s":"B"},{"f":88.00,"dB":58.4,"s":"B"},{"f":88.29,"dB":60.6,"s":"B"},{"f":88.59,"dB":58.4,"s":"B"},{"f":88.88,"dB":61.8,"s":"B"},{"f":89.18,"dB":61.8,"s":"B"},{"f":89.47,"dB":62.9,"s":"B"},{"f":89.76,"dB":65.2,"s":"B"},{"f":90.18,"dB":69.7,"s":"B"},{"f":90.53,"dB":83.3,"s":"B"},{"f":90.82,"dB":82.2,"s":"B"},{"f":91.12,"dB":79.9,"s":"B"},{"f":91.41,"dB":83.3,"s":"B"},{"f":91.82,"dB":90.1,"s":"B"},{"f":92.12,"dB":81.0,"s":"B"},{"f":92.53,"dB":72.0,"s":"B"},{"f":92.88,"dB":66.3,"s":"B"},{"f":93.18,"dB":61.8,"s":"B"},{"f":93.47,"dB":65.2,"s":"B"},{"f":93.76,"dB":61.8,"s":"B"},{"f":94.06,"dB":60.6,"s":"B"},{"f":94.29,"dB":65.2,"s":"B"},{"f":94.65,"dB":67.4,"s":"B"},{"f":94.94,"dB":66.3,"s":"B"},{"f":95.24,"dB":69.7,"s":"B"},{"f":95.53,"dB":75.4,"s":"B"},{"f":95.82,"dB":72.0,"s":"B"},{"f":96.24,"dB":68.6,"s":"B"},{"f":96.53,"dB":72.0,"s":"B"},{"f":96.82,"dB":67.4,"s":"B"},{"f":97.24,"dB":73.1,"s":"B"},{"f":97.59,"dB":67.4,"s":"B"},{"f":98.00,"dB":65.2,"s":"B"},{"f":98.41,"dB":66.3,"s":"B"},{"f":98.88,"dB":66.3,"s":"B"},{"f":99.35,"dB":67.4,"s":"B"},{"f":99.76,"dB":68.6,"s":"B"},{"f":100.06,"dB":74.2,"s":"B"},{"f":100.35,"dB":85.6,"s":"B"},{"f":100.65,"dB":91.2,"s":"B"},{"f":100.94,"dB":93.5,"s":"B"},{"f":101.24,"dB":81.0,"s":"B"},{"f":101.53,"dB":73.1,"s":"B"},{"f":101.82,"dB":84.4,"s":"B"},{"f":102.12,"dB":74.2,"s":"B"},{"f":102.41,"dB":68.6,"s":"B"},{"f":102.71,"dB":66.3,"s":"B"},{"f":103.00,"dB":65.2,"s":"B"},{"f":103.29,"dB":64.0,"s":"B"},{"f":103.59,"dB":62.9,"s":"B"},{"f":104.06,"dB":61.8,"s":"B"},{"f":104.47,"dB":58.4,"s":"B"},{"f":104.88,"dB":58.4,"s":"B"},{"f":105.24,"dB":66.3,"s":"B"},{"f":105.65,"dB":74.2,"s":"B"}
],
"one": [{"k": 1}]},
"layer": [
{"data": {"name": "spectrum"},
 "mark": {"type": "line", "clip": true, "strokeWidth": 1.9, "interpolate": "linear"},
 "encoding": {
  "x": {"field": "f", "type": "quantitative",
        "scale": {"domain": [0, 105.7], "nice": false, "zero": false},
        "axis": {"values": [0, 20, 40, 60, 80, 100], "tickSize": 8, "labelPadding": 4,
                 "title": "[Hz]", "titleFontSize": 24, "titleX": 284, "titleY": 38.5, "titleAlign": "center", "titleBaseline": "alphabetic"}},
  "y": {"field": "dB", "type": "quantitative",
        "scale": {"domain": [55, 145.4], "nice": false, "zero": false},
        "axis": {"values": [60, 80, 100, 120, 140], "tickSize": 4, "labelPadding": 4, "title": null}},
  "color": {"field": "s", "type": "nominal", "scale": {"domain": ["A_high", "A_low", "B"], "range": ["#ec1c24", "#ec1c24", "#1a96d6"]}, "legend": null},
  "order": {"field": "f", "type": "quantitative"}
 }},
{"data": {"name": "one"}, "mark": {"type": "rule", "color": "#231f20", "strokeWidth": 1.3},
 "encoding": {"x": {"datum": 38.29, "type": "quantitative"}, "y": {"datum": 146.08, "type": "quantitative"},
              "x2": {"datum": 25.85}, "y2": {"datum": 81.49}}},
{"data": {"name": "one"}, "mark": {"type": "rule", "color": "#231f20", "strokeWidth": 1.3},
 "encoding": {"x": {"datum": 76.08, "type": "quantitative"}, "y": {"datum": 146.08, "type": "quantitative"},
              "x2": {"datum": 83.36}, "y2": {"datum": 101.38}}},
{"data": {"name": "one"}, "mark": {"type": "point", "shape": "M0,0L-0.38,1L0.38,1Z", "filled": true, "fill": "#231f20", "opacity": 1, "size": 380, "angle": 200.4, "strokeWidth": 0},
 "encoding": {"x": {"datum": 25.85, "type": "quantitative"}, "y": {"datum": 81.49, "type": "quantitative"}}},
{"data": {"name": "one"}, "mark": {"type": "point", "shape": "M0,0L-0.38,1L0.38,1Z", "filled": true, "fill": "#231f20", "opacity": 1, "size": 380, "angle": 162.5, "strokeWidth": 0},
 "encoding": {"x": {"datum": 83.36, "type": "quantitative"}, "y": {"datum": 101.38, "type": "quantitative"}}},
{"data": {"name": "one"}, "mark": {"type": "rect", "fill": "white", "stroke": "#231f20", "strokeWidth": 1.3},
 "encoding": {"x": {"datum": 27.79, "type": "quantitative"}, "x2": {"datum": 50.65},
              "y": {"datum": 155.51, "type": "quantitative"}, "y2": {"datum": 146.18}}},
{"data": {"name": "one"}, "mark": {"type": "rect", "fill": "white", "stroke": "#231f20", "strokeWidth": 1.3},
 "encoding": {"x": {"datum": 62.61, "type": "quantitative"}, "x2": {"datum": 94.79},
              "y": {"datum": 155.51, "type": "quantitative"}, "y2": {"datum": 146.18}}},
{"data": {"name": "one"}, "mark": {"type": "text", "text": "2. Vacillatings", "font": "Liberation Serif", "fontSize": 21, "fontWeight": "normal", "fill": "#231f20", "align": "center", "baseline": "alphabetic"},
 "encoding": {"x": {"datum": 39.22, "type": "quantitative"}, "y": {"datum": 148.6, "type": "quantitative"}}},
{"data": {"name": "one"}, "mark": {"type": "text", "text": "1. Acoustic pressure", "font": "Liberation Serif", "fontSize": 21, "fontWeight": "normal", "fill": "#231f20", "align": "center", "baseline": "alphabetic"},
 "encoding": {"x": {"datum": 78.7, "type": "quantitative"}, "y": {"datum": 148.6, "type": "quantitative"}}},
{"data": {"name": "one"}, "mark": {"type": "text", "text": "Autospectrum Channel A, B", "font": "Liberation Serif", "fontSize": 24, "fontWeight": "normal", "fill": "#231f20", "align": "center", "baseline": "alphabetic"},
 "encoding": {"x": {"datum": 68.94, "type": "quantitative"}, "y": {"datum": 177.9, "type": "quantitative"}}},
{"data": {"name": "one"}, "mark": {"type": "text", "text": "Test measurements - the left and right engine 600 [rpm/min]", "font": "Liberation Serif", "fontSize": 24, "fontWeight": "normal", "fill": "#231f20", "align": "center", "baseline": "alphabetic"},
 "encoding": {"x": {"datum": 52.32, "type": "quantitative"}, "y": {"datum": 169.4, "type": "quantitative"}}},
{"data": {"name": "one"}, "mark": {"type": "text", "text": "[dB re 10⁻⁶ Pa]", "font": "Liberation Serif", "fontSize": 24, "fontWeight": "normal", "fill": "#ec1c24", "align": "left", "baseline": "alphabetic"},
 "encoding": {"x": {"datum": -7.39, "type": "quantitative"}, "y": {"datum": 159.0, "type": "quantitative"}}},
{"data": {"name": "one"}, "mark": {"type": "text", "text": "[dB re 10⁻⁶ m/s²]", "font": "Liberation Serif", "fontSize": 24, "fontWeight": "normal", "fill": "#1a96d6", "align": "left", "baseline": "alphabetic"},
 "encoding": {"x": {"datum": -7.39, "type": "quantitative"}, "y": {"datum": 149.83, "type": "quantitative"}}}
]
}
